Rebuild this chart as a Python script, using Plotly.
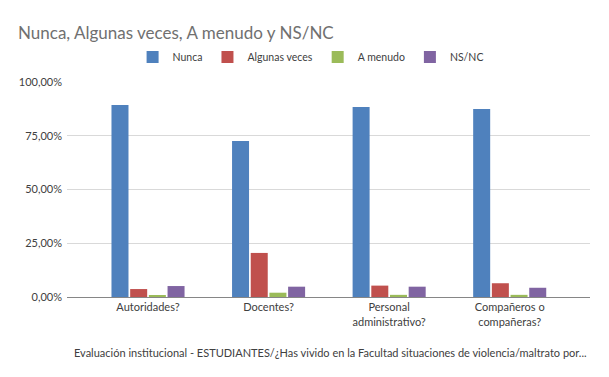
import plotly.graph_objects as go

categories = ["Autoridades?", "Docentes?", "Personal<br>administrativo?", "Compañeros o<br>compañeras?"]
series_names = ["Nunca", "Algunas veces", "A menudo", "NS/NC"]
nunca = [89.3, 72.6, 88.4, 87.4]
algunas = [3.7, 20.5, 5.3, 6.4]
a_menudo = [0.5, 2.0, 1.0, 1.0]
nsnc = [5.1, 4.8, 4.8, 4.3]
colors = ["#4F81BD", "#C0504D", "#9BBB59", "#8064A2"]
y_ticks = [0, 25, 50, 75, 100]
y_tick_labels = ["0,00%", "25,00%", "50,00%", "75,00%", "100,00%"]

font = "Lato"
W, H = 609, 377
L, R, T, B = 67, 19, 82, 80
fig = go.Figure()
for name, vals, c in zip(series_names, [nunca, algunas, a_menudo, nsnc], colors):
    fig.add_trace(go.Bar(name=name, x=categories, y=vals, marker=dict(color=c, line=dict(width=0)),
                         hovertemplate="%{y:.2f}%<extra>" + name + "</extra>"))

fig.update_layout(
    width=W, height=H,
    margin=dict(l=L, r=R, t=T, b=B, autoexpand=False),
    paper_bgcolor="white", plot_bgcolor="white",
    barmode="group", bargap=0.38, bargroupgap=0.09,
    font=dict(family=font, size=11, color="#404040"),
    title=dict(text="Nunca, Algunas veces, A menudo y NS/NC", x=18 / W, xanchor="left", xref="container",
               y=1 - 33 / H, yref="container", yanchor="middle",
               font=dict(family=font, size=17, color="#707070")),
    legend=dict(orientation="h", x=0.51, xanchor="center", xref="container",
                y=1 - 57 / H, yref="container", yanchor="middle",
                font=dict(family=font, size=10.5, color="#404040"), itemwidth=30,
                traceorder="normal"),
    showlegend=True,
)
fig.update_yaxes(range=[0, 100], tickvals=y_ticks, ticktext=y_tick_labels, showgrid=True,
                 gridcolor="#D9D9D9", gridwidth=1, zeroline=False, showline=False, ticks="",
                 ticklabelstandoff=4, automargin=False,
                 tickfont=dict(size=11, color="#404040"))
fig.update_xaxes(range=[-0.672, 3.666], showline=True, linecolor="#868686", linewidth=1, ticks="",
                 automargin=False, tickfont=dict(size=11, color="#404040"))
plot_h = H - T - B
fig.add_annotation(text="Evaluación institucional - ESTUDIANTES/¿Has vivido en la Facultad situaciones de violencia/maltrato por...",
                   xref="paper", yref="paper", x=(330 - L) / (W - L - R), y=(H - B - 352) / plot_h,
                   xanchor="center", yanchor="middle",
                   showarrow=False, font=dict(family=font, size=11, color="#404040"))
fig.write_html("out.html", config={"displayModeBar": False},
               post_script="document.body.style.margin='0';document.body.style.overflow='hidden';")
